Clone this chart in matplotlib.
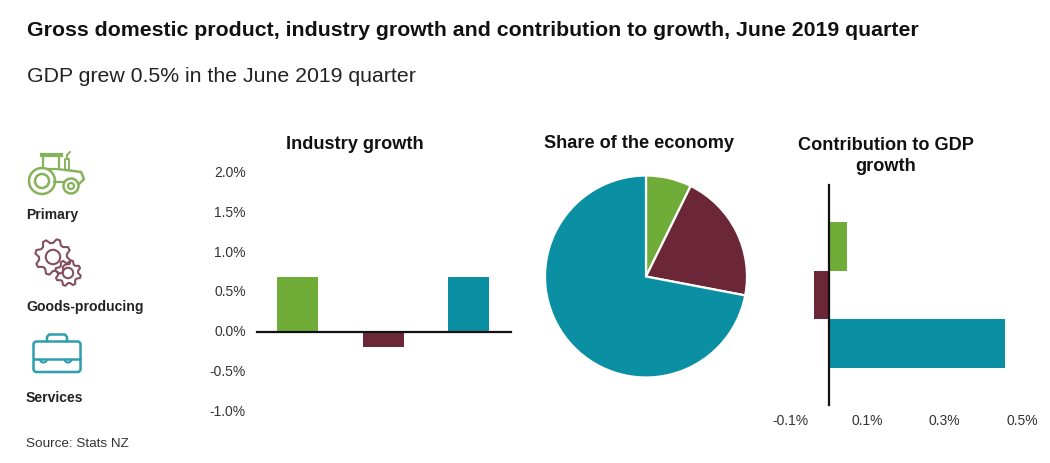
import numpy as np
import matplotlib
matplotlib.use("Agg")
import matplotlib.pyplot as plt
from matplotlib.patches import Arc, Circle, FancyBboxPatch, Polygon
from matplotlib.transforms import ScaledTranslation

plt.rcParams["font.family"] = ["Liberation Sans", "DejaVu Sans"]

# Data
sectors = ["Primary", "Goods-producing", "Services"]
industry_growth = [0.69, -0.19, 0.69]
economy_share = [7.3, 20.7, 72.0]
gdp_contribution = [0.048, -0.037, 0.456]
growth_ticks = [-1.0, -0.5, 0.0, 0.5, 1.0, 1.5, 2.0]
contrib_ticks = [-0.1, 0.1, 0.3, 0.5]

colors = ["#70AD38", "#6B2737", "#0B90A3"]
icon_colors = ["#86B25C", "#85505E", "#2E9DAD"]
W, H = 1050, 464


def px_axes(fig, left, top, right, bottom):
    # axes position given in picture pixels
    return fig.add_axes([left / W, 1 - bottom / H, (right - left) / W, (bottom - top) / H])


def gear(ax, cx, cy, r, teeth, color):
    # gear outline, alternating tooth and root radius
    n = teeth * 4
    ang = np.arange(n) * 2 * np.pi / n
    rad = np.where(np.arange(n) % 4 < 2, r, r * 0.78)
    pts = np.c_[cx + rad * np.cos(ang + 0.2), cy + rad * np.sin(ang + 0.2)]
    ax.add_patch(Polygon(pts, closed=True, fill=False, ec=color, lw=1.5, joinstyle="round"))
    ax.add_patch(Circle((cx, cy), r * 0.4, fill=False, ec=color, lw=1.5))


fig = plt.figure(figsize=(W / 100, H / 100), dpi=100)

# background layer in pixel coordinates, for text and icons
bg = fig.add_axes([0, 0, 1, 1])
bg.set_xlim(0, W)
bg.set_ylim(H, 0)
bg.axis("off")

bg.text(27, 30, "Gross domestic product, industry growth and contribution to growth, June 2019 quarter",
        fontsize=15.3, fontweight="bold", color="#111111", va="center")
bg.text(27, 76, "GDP grew 0.5% in the June 2019 quarter", fontsize=15.3, color="#222222", va="center")
bg.text(355, 145, "Industry growth", fontsize=13.1, fontweight="bold", color="#111111", ha="center", va="center")
bg.text(639, 144, "Share of the economy", fontsize=13.1, fontweight="bold", color="#111111", ha="center", va="center")
bg.text(886, 156, "Contribution to GDP\ngrowth", fontsize=13.1, fontweight="bold", color="#111111",
        ha="center", va="center", linespacing=1.3)

for name, y in zip(sectors, [215, 307, 398]):
    bg.text(26, y, name, fontsize=10.1, fontweight="bold", color="#222222", va="center")
bg.text(26, 444, "Source: Stats NZ", fontsize=9.7, color="#333333", va="center")

# tractor
c = icon_colors[0]
bg.add_patch(Circle((42, 182), 13, fill=False, ec=c, lw=1.8))
bg.add_patch(Circle((42, 182), 7, fill=False, ec=c, lw=1.8))
bg.add_patch(Circle((71, 187), 7.5, fill=False, ec=c, lw=1.8))
bg.add_patch(Circle((71, 187), 3, fill=False, ec=c, lw=1.6))
bg.plot([42, 61], [156, 156], color=c, lw=3)
bg.plot([43, 43], [156, 169], color=c, lw=1.6)
bg.plot([59, 59], [156, 169], color=c, lw=1.6)
bg.plot([48, 56, 66], [170, 170, 171], color=c, lw=1.6)
bg.plot([66, 81, 84, 79], [171, 173, 180, 185], color=c, lw=1.8)
bg.plot([54, 64], [183, 183], color=c, lw=1.6)
bg.plot([65, 65, 69, 69, 65], [171, 160, 160, 171, 171], color=c, lw=1.4)
bg.plot([67, 67, 70], [160, 156, 153], color=c, lw=1.4)

# gears
gear(bg, 53, 258, 18, 8, icon_colors[1])
gear(bg, 68, 274, 13, 8, icon_colors[1])

# briefcase
c = icon_colors[2]
bg.add_patch(FancyBboxPatch((33.5, 342.5), 47, 30.5, boxstyle="round,pad=0,rounding_size=3", fill=False, ec=c, lw=1.8))
bg.plot([47, 47, 49, 65, 67, 67], [342, 338, 335.5, 335.5, 338, 342], color=c, lw=1.8)
bg.plot([34, 80], [360, 360], color=c, lw=1.8)
bg.add_patch(Arc((43.5, 360), 7, 7, theta1=0, theta2=180, ec=c, lw=1.5))
bg.add_patch(Arc((68, 360), 7, 7, theta1=0, theta2=180, ec=c, lw=1.5))

# industry growth columns
ax1 = px_axes(fig, 257, 173.5, 511, 412.5)
ax1.patch.set_alpha(0)
ax1.bar(range(3), industry_growth, width=0.48, color=colors)
ax1.set_xlim(-0.48, 2.5)
ax1.set_ylim(-1.0, 2.0)
ax1.set_xticks([])
ax1.set_yticks(growth_ticks)
ax1.set_yticklabels([f"{v:.1f}%" for v in growth_ticks], fontsize=10, color="#333333")
ax1.tick_params(axis="y", length=0, pad=8)
# labels sit a little above their gridline positions in the reference
up = ScaledTranslation(0, 2 / 100, fig.dpi_scale_trans)
for lab in ax1.get_yticklabels():
    lab.set_transform(lab.get_transform() + up)
for s in ["top", "right", "left"]:
    ax1.spines[s].set_visible(False)
ax1.spines["bottom"].set_position(("data", 0))
ax1.spines["bottom"].set_linewidth(1.6)
ax1.spines["bottom"].set_color("#111111")

# share pie
ax2 = px_axes(fig, 545, 176.5, 747, 378.5)
ax2.pie(economy_share, colors=colors, startangle=90, counterclock=False, radius=1,
        wedgeprops={"edgecolor": "white", "linewidth": 1.6})
ax2.set_xlim(-1, 1)
ax2.set_ylim(-1, 1)

# contribution bars
ax3 = px_axes(fig, 790, 186, 1022, 406)
ax3.patch.set_alpha(0)
ax3.barh(range(3), gdp_contribution, height=1.0, color=colors)
ax3.set_xlim(-0.1, 0.5)
ax3.set_ylim(3.245, -1.245)
ax3.set_yticks([])
ax3.set_xticks(contrib_ticks)
ax3.set_xticklabels([f"{v:.1f}%" for v in contrib_ticks], fontsize=10, color="#333333")
ax3.tick_params(axis="x", length=0, pad=6)
for s in ["top", "right", "bottom"]:
    ax3.spines[s].set_visible(False)
ax3.spines["left"].set_position(("data", 0))
ax3.spines["left"].set_linewidth(1.6)
ax3.spines["left"].set_color("#111111")

fig.savefig("out.png", dpi=100)
